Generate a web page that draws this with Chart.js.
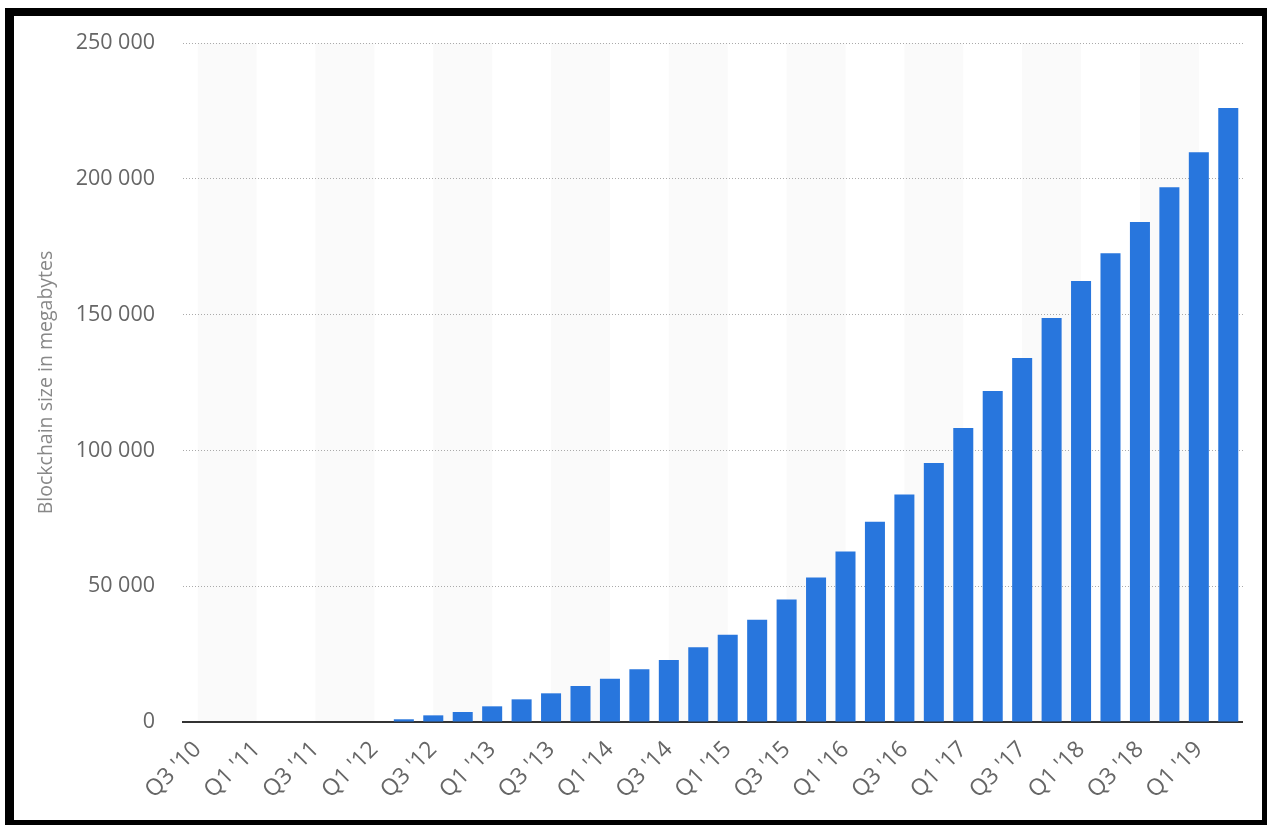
<!DOCTYPE html>
<html>
<head>
<meta charset="utf-8">
<script src="https://cdn.jsdelivr.net/npm/chart.js@4"></script>
<style>
  html, body { margin: 0; padding: 0; background: #fff; }
  #frame {
    position: absolute; left: 5px; top: 8px;
    width: 1248px; height: 804px;
    border-style: solid; border-color: #000;
    border-width: 8px 5px 5px 9px;
    background: #fff;
  }
  #chart-box { position: relative; width: 1248px; height: 804px; }
</style>
</head>
<body>
<div id="frame"><div id="chart-box"><canvas id="chart"></canvas></div></div>
<script>
// --- data ---
const quarters = [
  "Q3 '10", "Q4 '10", "Q1 '11", "Q2 '11", "Q3 '11", "Q4 '11",
  "Q1 '12", "Q2 '12", "Q3 '12", "Q4 '12", "Q1 '13", "Q2 '13",
  "Q3 '13", "Q4 '13", "Q1 '14", "Q2 '14", "Q3 '14", "Q4 '14",
  "Q1 '15", "Q2 '15", "Q3 '15", "Q4 '15", "Q1 '16", "Q2 '16",
  "Q3 '16", "Q4 '16", "Q1 '17", "Q2 '17", "Q3 '17", "Q4 '17",
  "Q1 '18", "Q2 '18", "Q3 '18", "Q4 '18", "Q1 '19", "Q2 '19"
];
const sizeMB = [
  0, 0, 0, 0, 0, 0,
  0, 1000, 2450, 3680, 5770, 8340,
  10560, 13250, 15930, 19390, 22810, 27480,
  32120, 37640, 45140, 53240, 62800, 73700,
  83770, 95400, 108280, 121890, 134030, 148790,
  162350, 172620, 184090, 196920, 209750, 226030
];
const yTicks = [0, 50000, 100000, 150000, 200000, 250000];
const yTitle = 'Blockchain size in megabytes';

const fmt = v => String(v).replace(/\B(?=(\d{3})+(?!\d))/g, ' ');

// light bands between every other pair of labelled ticks (drawn under grid + axis)
const bandPlugin = {
  id: 'bands',
  beforeDraw(chart) {
    const { ctx, chartArea, scales: { x } } = chart;
    ctx.save();
    ctx.fillStyle = '#fafafa';
    for (let i = 0; i + 2 < quarters.length; i += 4) {
      const x0 = x.getPixelForValue(i);
      const x1 = x.getPixelForValue(i + 2);
      ctx.fillRect(x0, chartArea.top, x1 - x0, chartArea.bottom - chartArea.top);
    }
    ctx.restore();
  }
};

Chart.defaults.font.family = "'Open Sans', sans-serif";

new Chart(document.getElementById('chart'), {
  type: 'bar',
  data: {
    labels: quarters,
    datasets: [{
      data: sizeMB,
      backgroundColor: '#2876dd',
      borderWidth: 0,
      categoryPercentage: 1,
      barPercentage: 0.68
    }]
  },
  options: {
    responsive: true,
    maintainAspectRatio: false,
    animation: false,
    layout: { padding: { top: 27, right: 15, left: 0, bottom: 0 } },
    plugins: { legend: { display: false }, tooltip: { enabled: false } },
    scales: {
      x: {
        grid: { display: false, drawTicks: false },
        border: { display: true, color: '#333', width: 2 },
        ticks: {
          autoSkip: false,
          minRotation: 45,
          maxRotation: 45,
          padding: 14,
          color: '#666',
          font: { size: 23 },
          callback: (v, i) => (i % 2 === 0 ? quarters[i] : '')
        },
        afterFit: axis => { axis.height = 98; }
      },
      y: {
        min: 0,
        max: 250000,
        afterBuildTicks: axis => { axis.ticks = yTicks.map(v => ({ value: v })); },
        grid: { color: '#aaa', lineWidth: 1, drawTicks: false },
        border: { display: false, dash: [1, 2] },
        ticks: {
          padding: 28,
          color: '#666',
          font: { size: 21.5 },
          callback: v => fmt(v)
        },
        title: {
          display: true,
          text: yTitle,
          color: '#888',
          font: { size: 19.5 },
          padding: { top: 21, bottom: 0 }
        },
        afterFit: axis => {
          axis.width = 169;
          axis.paddingTop = 0;
          axis.paddingBottom = 0;
        }
      }
    }
  },
  plugins: [bandPlugin]
});
</script>
</body>
</html>
